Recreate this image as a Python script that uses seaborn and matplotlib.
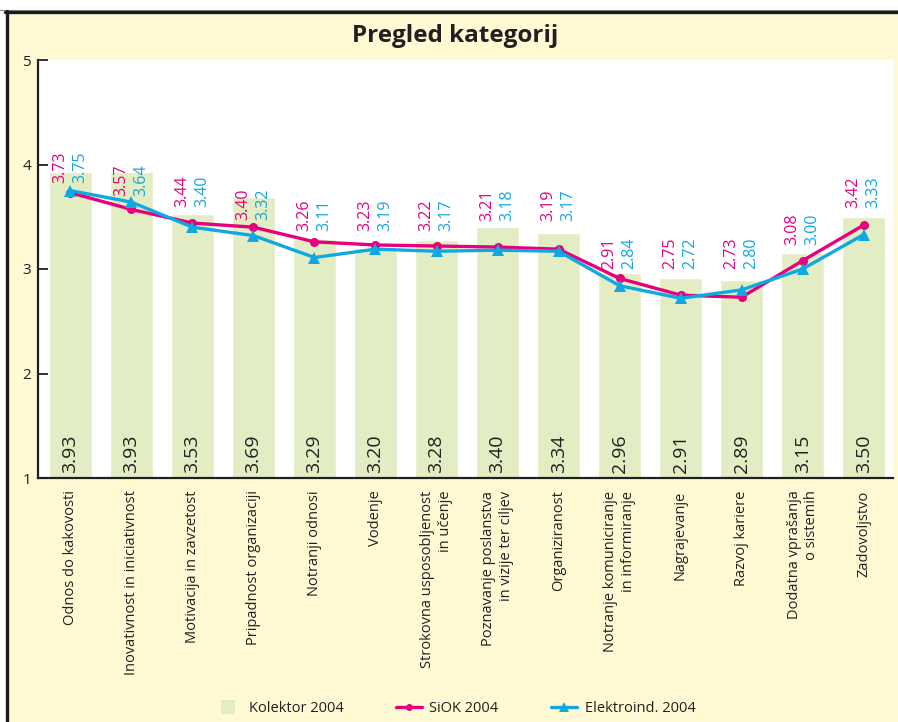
import numpy as np
import pandas as pd
import matplotlib
matplotlib.use("Agg")
import matplotlib.pyplot as plt
from matplotlib.patches import Rectangle
from matplotlib.lines import Line2D
import seaborn as sns

categories = [
    "Odnos do kakovosti",
    "Inovativnost in iniciativnost",
    "Motivacija in zavzetost",
    "Pripadnost organizaciji",
    "Notranji odnosi",
    "Vodenje",
    "Strokovna usposobljenost\nin učenje",
    "Poznavanje poslanstva\nin vizije ter ciljev",
    "Organiziranost",
    "Notranje komuniciranje\nin informiranje",
    "Nagrajevanje",
    "Razvoj kariere",
    "Dodatna vprašanja\no sistemih",
    "Zadovoljstvo",
]
kolektor = [3.93, 3.93, 3.53, 3.69, 3.29, 3.20, 3.28, 3.40, 3.34, 2.96, 2.91, 2.89, 3.15, 3.50]
siok = [3.73, 3.57, 3.44, 3.40, 3.26, 3.23, 3.22, 3.21, 3.19, 2.91, 2.75, 2.73, 3.08, 3.42]
elektro = [3.75, 3.64, 3.40, 3.32, 3.11, 3.19, 3.17, 3.18, 3.17, 2.84, 2.72, 2.80, 3.00, 3.33]
yticks = [1, 2, 3, 4, 5]

# layout: vertical base of the rotated value labels above each category
label_base = [3.82, 3.70, 3.59, 3.47, 3.36, 3.36, 3.36, 3.46, 3.46, 3.0, 3.0, 3.0, 3.23, 3.58]

BG = "#FFFAD4"
BAR = "#E3EDC3"
PINK = "#E6007E"
CYAN = "#10A8E2"
TXT = "#231F20"

sns.set_theme(style="white")
plt.rcParams["font.family"] = ["Open Sans", "DejaVu Sans"]

W, H = 898, 722
fig = plt.figure(figsize=(W / 100, H / 100), dpi=100)
fig.patch.set_facecolor("white")

# frame: yellow panel with black top and left border
fig.add_artist(Rectangle((8 / W, 0), 1, 1 - 13 / H, transform=fig.transFigure,
                         facecolor=BG, edgecolor="none", zorder=-10))
fig.add_artist(Line2D([0, 1], [1 - 9.5 / H] * 2, transform=fig.transFigure,
                      color="#8a8a8a", lw=0.8))
fig.add_artist(Line2D([5 / W, 1], [1 - 12 / H] * 2, transform=fig.transFigure,
                      color="#1a1a1a", lw=2.4))
fig.add_artist(Line2D([6.5 / W] * 2, [0, 1 - 11 / H], transform=fig.transFigure,
                      color="#1a1a1a", lw=2.4))

ax_left, ax_right, ax_top, ax_bottom = 38, 893, 60, 478
ax = fig.add_axes([ax_left / W, 1 - ax_bottom / H, (ax_right - ax_left) / W,
                   (ax_bottom - ax_top) / H])
ax.set_facecolor("white")

df = pd.DataFrame({"cat": categories, "kolektor": kolektor,
                   "siok": siok, "elektro": elektro, "pos": np.arange(len(categories))})

sns.barplot(data=df, x="cat", y="kolektor", color=BAR, saturation=1, width=0.70,
            ax=ax, zorder=1)
sns.lineplot(data=df, x="pos", y="siok", color=PINK, lw=2.4, marker="o",
             markersize=6.5, markeredgewidth=0, ax=ax, zorder=3)
sns.lineplot(data=df, x="pos", y="elektro", color=CYAN, lw=2.4, marker="^",
             markersize=9, markeredgewidth=0, ax=ax, zorder=4)

ax.set_ylim(1, 5)
ax.set_xlim(-0.53, 13.48)
ax.set_yticks(yticks)
ax.set_yticklabels([str(t) for t in yticks], fontsize=11, color=TXT)
ax.tick_params(axis="y", direction="in", length=7, width=1.3, color=TXT, pad=5, left=True)
ax.set_xticks(range(len(categories)))
ax.set_xticklabels(categories, rotation=90, ha="center", va="top",
                   multialignment="right", fontsize=10.5, color=TXT)
ax.tick_params(axis="x", length=0, pad=9)
ax.set_xlabel("")
ax.set_ylabel("")
for s in ["top", "right"]:
    ax.spines[s].set_visible(False)
for s in ["left", "bottom"]:
    ax.spines[s].set_color(TXT)
    ax.spines[s].set_linewidth(1.6)

for i, v in enumerate(kolektor):
    ax.text(i, 1.05, f"{v:.2f}", rotation=90, ha="center", va="bottom",
            fontsize=14, color=TXT, zorder=5)
for i, (a, b) in enumerate(zip(siok, elektro)):
    ax.text(i - 0.165, label_base[i], f"{a:.2f}", rotation=90, ha="center",
            va="bottom", fontsize=11.5, color=PINK, zorder=6)
    ax.text(i + 0.165, label_base[i], f"{b:.2f}", rotation=90, ha="center",
            va="bottom", fontsize=11.5, color=CYAN, zorder=6)

fig.text(0.507, 1 - 36 / H, "Pregled kategorij", fontsize=17.5, fontweight="bold",
         ha="center", va="center", color=TXT)

handles = [
    Line2D([], [], color=BAR, lw=0, marker="s", markersize=10, markeredgewidth=0),
    Line2D([], [], color=PINK, lw=2.4, marker="o", markersize=5, markeredgewidth=0),
    Line2D([], [], color=CYAN, lw=2.4, marker="^", markersize=7, markeredgewidth=0),
]
fig.legend(handles, ["Kolektor 2004", "SiOK 2004", "Elektroind. 2004"],
           loc="center", bbox_to_anchor=(0.507, 1 - 709 / H), ncol=3, frameon=False,
           fontsize=10.5, handlelength=1.8, handletextpad=0.5, columnspacing=3.6,
           labelcolor=TXT)

fig.savefig("out.png", dpi=100, facecolor=fig.get_facecolor())
